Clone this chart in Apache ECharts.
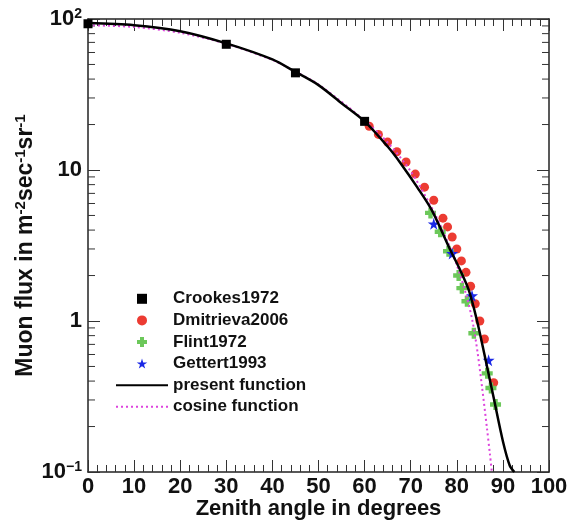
<!DOCTYPE html>
<html>
<head>
<meta charset="utf-8">
<script src="https://cdn.jsdelivr.net/npm/echarts@6/dist/echarts.min.js"></script>
<style>
  html, body { margin: 0; padding: 0; background: #fff; }
  #main { width: 570px; height: 521px; }
</style>
</head>
<body>
<div id="main"></div>
<script>
// data (angle in degrees, flux in m^-2 s^-1 sr^-1)
var crookesAngle = [0, 30, 45, 60];
var crookesFlux = [93, 68, 44, 21];

var dmitrievaAngle = [61, 63, 65, 67, 69, 71, 73, 75, 77, 78, 79, 80, 81, 82, 83, 84, 85, 86, 88];
var dmitrievaFlux = [19.5, 17.2, 15.3, 13.2, 11.3, 9.4, 7.7, 6.3, 4.8, 4.2, 3.6, 3.0, 2.5, 2.1, 1.7, 1.3, 1.0, 0.76, 0.39];

var flintAngle = [74.3, 76.4, 78.2, 80.4, 81.1, 82.2, 83.7, 86.6, 87.4, 88.4];
var flintFlux = [5.2, 3.9, 2.9, 2.0, 1.65, 1.35, 0.83, 0.45, 0.36, 0.28];

var gettertAngle = [75, 79, 83.3, 86.9];
var gettertFlux = [4.4, 2.8, 1.47, 0.55];

// present function (black) and cosine function (magenta)
var presentAngle = [0, 10, 20, 30, 40, 45, 50, 55, 60, 65, 67.8, 71.4, 74.6, 78.6, 80.5, 82.6, 84.4, 86, 88, 90, 91.5, 92.5];
var presentFlux = [94, 91, 83, 69, 54, 44.6, 36.5, 27.7, 21, 14.3, 11.1, 7.7, 5.4, 2.95, 2.25, 1.6, 1.0, 0.6, 0.31, 0.16, 0.11, 0.1];

var cosineAngle = [0, 10, 20, 30, 40, 45, 50, 60, 65, 70, 75, 78, 80, 82, 83.4, 84.5, 85.5, 86.5, 87.2, 87.6];
var cosineFlux = [91, 88.5, 81, 68.5, 53.5, 44.8, 36.8, 21.3, 15.2, 9.8, 5.3, 3.35, 2.35, 1.5, 1.0, 0.62, 0.36, 0.2, 0.13, 0.1];

// minor tick values of the log axis
var yMinorTicks = [0.2, 0.3, 0.4, 0.5, 0.6, 0.7, 0.8, 0.9, 2, 3, 4, 5, 6, 7, 8, 9, 20, 30, 40, 50, 60, 70, 80, 90];

var legendNames = ['Crookes1972', 'Dmitrieva2006', 'Flint1972', 'Gettert1993', 'present function', 'cosine function'];

var xTicks = { min: 0, max: 100, interval: 10 };

function pairs(xs, ys) {
    var out = [];
    for (var i = 0; i < xs.length; i++) out.push([xs[i], ys[i]]);
    return out;
}

var FONT = 'Liberation Sans, Arial, Helvetica, sans-serif';
var squarePath = 'path://M0,0H10V10H0Z';
var crossPath = 'path://M3,0H7V3H10V7H7V10H3V7H0V3H3Z';
var starPath = 'path://M50,0L61,35H98L68,57L79,91L50,70L21,91L32,57L2,35H39Z';

var myChart = echarts.init(document.getElementById('main'));

var xAxisBase = {
    type: 'value',
    min: xTicks.min,
    max: xTicks.max,
    interval: xTicks.interval,
    splitLine: { show: false },
    axisLine: { show: true, onZero: false, lineStyle: { color: '#222', width: 1.5 } },
    axisTick: { show: true, inside: true, length: 12, lineStyle: { color: '#333', width: 1 } },
    minorTick: { show: true, splitNumber: 5, length: 7, lineStyle: { color: '#333', width: 1 } }
};

var yAxisBase = {
    type: 'log',
    logBase: 10,
    min: 0.1,
    max: 100,
    interval: 1,
    splitLine: { show: false },
    axisLine: { show: true, onZero: false, lineStyle: { color: '#222', width: 1.5 } },
    axisTick: { show: true, inside: true, length: 12, lineStyle: { color: '#333', width: 1 } },
    minorTick: { show: false }
};

// line entries in the legend: hide the symbol that echarts puts in the middle
var legendData = legendNames.map(function (n) {
    if (n.indexOf('function') >= 0) return { name: n, itemStyle: { opacity: 0 } };
    return { name: n };
});

var option = {
    animation: false,
    backgroundColor: '#fff',
    grid: { left: 88, right: 21, top: 19, bottom: 49, containLabel: false, outerBoundsMode: 'none' },
    legend: {
        orient: 'vertical',
        left: 115,
        top: 289,
        padding: 0,
        itemWidth: 52,
        itemHeight: 10,
        itemGap: 2,
        textStyle: { fontFamily: FONT, fontWeight: 'bold', fontSize: 17, lineHeight: 19.6, color: '#111' },
        data: legendData
    },
    xAxis: [
        Object.assign({}, xAxisBase, {
            position: 'bottom',
            name: 'Zenith angle in degrees',
            nameLocation: 'middle',
            nameGap: 26,
            nameMoveOverlap: false,
            nameTextStyle: { fontFamily: FONT, fontWeight: 'bold', fontSize: 22, color: '#111' },
            axisLabel: { show: true, margin: 4, fontFamily: FONT, fontWeight: 'bold', fontSize: 22, color: '#111' }
        }),
        Object.assign({}, xAxisBase, {
            position: 'top',
            axisLabel: { show: false }
        })
    ],
    yAxis: [
        Object.assign({}, yAxisBase, {
            position: 'left',
            name: 'Muon flux in m{s|-2}sec{s|-1}sr{s|-1}',
            nameLocation: 'middle',
            nameGap: 50,
            nameMoveOverlap: false,
            nameTextStyle: {
                fontFamily: FONT, fontWeight: 'bold', fontSize: 23, color: '#111',
                rich: { s: { fontFamily: FONT, fontWeight: 'bold', fontSize: 15, color: '#111', verticalAlign: 'top', padding: [0, 0, 10, 0] } }
            },
            axisLabel: {
                show: true,
                margin: 6,
                fontFamily: FONT, fontWeight: 'bold', fontSize: 22, color: '#111',
                formatter: function (v) {
                    var p = Math.round(Math.log(v) / Math.LN10);
                    if (p === 2) return '10{s|2}';
                    if (p === -1) return '10{s|\u22121}';
                    if (p === 1) return '10';
                    return '1';
                },
                rich: { s: { fontFamily: FONT, fontWeight: 'bold', fontSize: 14, color: '#111', verticalAlign: 'top', padding: [0, 0, 10, 0] } }
            }
        }),
        Object.assign({}, yAxisBase, {
            position: 'right',
            axisLabel: { show: false }
        })
    ],
    series: [
        {
            name: 'yminor',
            type: 'custom',
            silent: true,
            xAxisIndex: 0,
            yAxisIndex: 0,
            data: yMinorTicks.map(function (v) { return [0, v]; }),
            encode: { x: 0, y: 1 },
            renderItem: function (params, api) {
                var v = api.value(1);
                var l = api.coord([0, v]);
                var r = api.coord([100, v]);
                return {
                    type: 'group',
                    children: [
                        { type: 'line', shape: { x1: l[0], y1: l[1], x2: l[0] + 7, y2: l[1] }, style: { stroke: '#333', lineWidth: 1 } },
                        { type: 'line', shape: { x1: r[0], y1: r[1], x2: r[0] - 7, y2: r[1] }, style: { stroke: '#333', lineWidth: 1 } }
                    ]
                };
            },
            z: 1
        },
        {
            name: 'Dmitrieva2006',
            type: 'scatter',
            symbol: 'circle',
            symbolSize: 9,
            itemStyle: { color: '#ec3b32', opacity: 1 },
            data: pairs(dmitrievaAngle, dmitrievaFlux),
            z: 2
        },
        {
            name: 'Flint1972',
            type: 'scatter',
            symbol: crossPath,
            symbolSize: 11,
            itemStyle: { color: '#6cc85a', opacity: 1 },
            data: pairs(flintAngle, flintFlux),
            z: 2
        },
        {
            name: 'Gettert1993',
            type: 'scatter',
            symbol: starPath,
            symbolSize: 12,
            itemStyle: { color: '#1a28e6', opacity: 1 },
            data: pairs(gettertAngle, gettertFlux),
            z: 2
        },
        {
            name: 'cosine function',
            type: 'line',
            symbol: 'circle',
            showSymbol: false,
            smooth: 0.3,
            clip: true,
            lineStyle: { color: '#dd44dd', width: 2, type: [2, 3] },
            itemStyle: { color: '#dd44dd' },
            data: pairs(cosineAngle, cosineFlux),
            z: 3
        },
        {
            name: 'present function',
            type: 'line',
            symbol: 'circle',
            showSymbol: false,
            smooth: 0.3,
            clip: true,
            lineStyle: { color: '#000', width: 2.5 },
            itemStyle: { color: '#000' },
            data: pairs(presentAngle, presentFlux),
            z: 4
        },
        {
            name: 'Crookes1972',
            type: 'scatter',
            symbol: squarePath,
            symbolSize: 9,
            symbolKeepAspect: true,
            itemStyle: { color: '#000', opacity: 1 },
            data: pairs(crookesAngle, crookesFlux),
            z: 5
        }
    ]
};

myChart.setOption(option);
</script>
</body>
</html>
